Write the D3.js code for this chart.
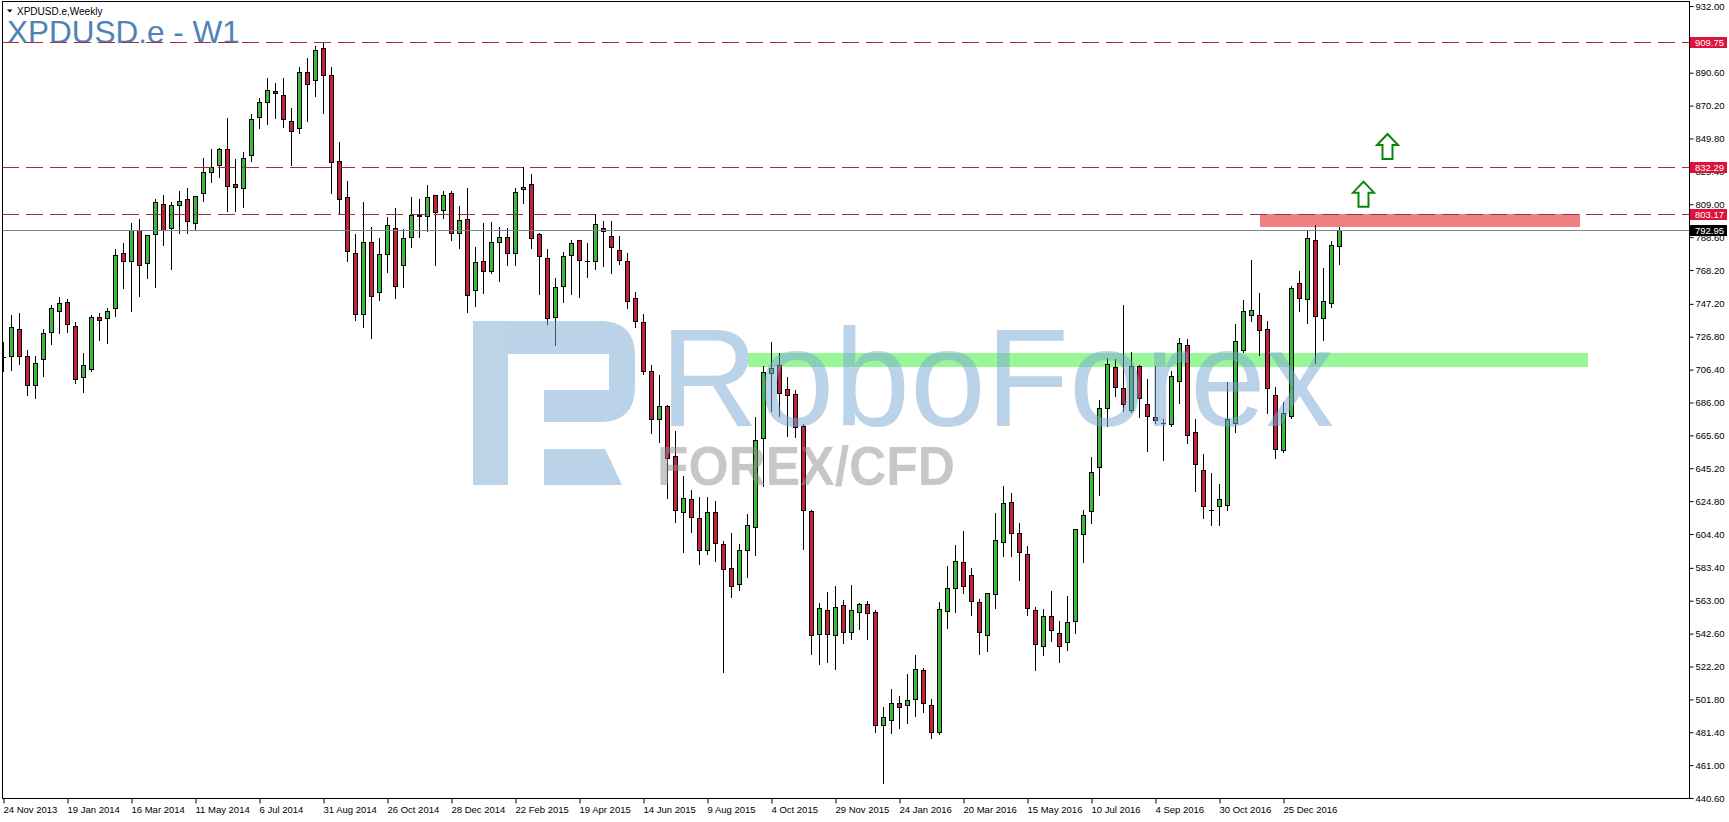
<!DOCTYPE html>
<html>
<head>
<meta charset="utf-8">
<title>XPDUSD.e - W1</title>
<script src="https://cdn.jsdelivr.net/npm/d3@7"></script>
<style>
  html, body { margin: 0; padding: 0; background: #fff; overflow: hidden; }
  svg { display: block; }
  text { font-family: "Liberation Sans", Arial, sans-serif; }
</style>
</head>
<body>
<svg id="chart"></svg>
<script>
// weekly XPDUSD.e candles, 24 Nov 2013 onwards
var opens = [
  714.5, 714.6, 731.4, 714.6, 696.6, 712.8, 729.5, 742.5, 748.1, 733.4,
  702.0, 707.0, 738.8, 738.2, 744.4, 778.5, 773.5, 792.8, 772.3, 790.3,
  808.9, 794.0, 808.3, 812.0, 797.1, 815.8, 828.8, 833.2, 843.2, 821.3,
  818.9, 839.3, 862.9, 872.2, 879.0, 876.6, 860.4, 856.1, 890.8, 885.9,
  905.7, 889.0, 835.6, 813.3, 778.5, 740.7, 785.4, 754.3, 777.9, 794.0,
  771.1, 788.5, 802.1, 801.5, 814.5, 805.2, 815.8, 791.0, 799.6, 755.6,
  773.6, 767.4, 785.4, 788.5, 778.6, 818.3, 821.3, 790.3, 775.4, 738.8,
  758.1, 777.3, 786.6, 773.9, 773.7, 794.1, 789.1, 780.4, 773.6, 750.6,
  735.7, 705.3, 675.6, 683.6, 652.6, 618.3, 625.9, 614.2, 594.3, 617.9,
  598.0, 583.1, 573.2, 594.3, 608.6, 663.8, 704.1, 709.1, 694.2, 691.1,
  671.2, 618.5, 542.2, 557.1, 541.6, 560.2, 543.4, 555.8, 560.8, 555.8,
  485.7, 488.8, 499.4, 498.1, 501.8, 519.8, 498.1, 481.8, 556.4, 570.7,
  586.8, 578.8, 562.0, 541.6, 567.0, 599.3, 624.1, 604.8, 591.8, 557.1,
  534.7, 553.3, 542.8, 537.2, 550.2, 604.2, 618.5, 645.8, 682.4, 707.8,
  694.8, 681.2, 708.5, 684.9, 676.8, 673.1, 672.5, 699.2, 721.5, 667.5,
  643.9, 619.4, 621.6, 622.2, 673.1, 718.4, 740.1, 740.1, 731.4, 690.5,
  656.4, 677.5, 760.0, 750.0, 786.6, 738.3, 747.6, 782.9
];
var highs = [
  724.0, 740.9, 742.1, 719.2, 715.5, 732.2, 747.1, 752.0, 750.8, 736.5,
  717.3, 740.7, 742.1, 745.2, 781.6, 785.5, 797.9, 800.2, 790.5, 812.6,
  815.3, 811.0, 817.8, 819.9, 815.0, 838.1, 843.7, 844.3, 863.0, 837.7,
  842.0, 865.4, 875.5, 887.9, 884.8, 887.9, 869.1, 894.8, 900.1, 907.8,
  909.9, 894.8, 848.2, 823.8, 790.9, 810.8, 795.5, 788.7, 801.7, 807.3,
  794.0, 814.1, 812.9, 821.6, 815.3, 817.6, 817.8, 808.5, 819.5, 783.1,
  798.0, 798.6, 795.5, 794.7, 819.5, 832.7, 828.2, 791.6, 781.6, 763.6,
  780.0, 787.2, 786.8, 785.6, 803.4, 799.0, 799.0, 789.7, 779.2, 755.0,
  741.3, 709.7, 703.5, 684.9, 668.7, 641.0, 632.4, 628.0, 628.0, 625.3,
  600.5, 605.7, 598.6, 617.5, 677.4, 709.1, 724.2, 717.1, 702.2, 694.2,
  673.1, 619.7, 562.0, 568.9, 572.6, 563.9, 573.2, 562.0, 563.5, 557.7,
  497.5, 508.7, 504.3, 518.2, 529.8, 521.7, 502.5, 562.6, 585.0, 598.0,
  606.7, 583.7, 564.5, 568.2, 617.9, 634.6, 630.3, 611.7, 597.4, 559.5,
  558.3, 569.5, 550.9, 566.4, 607.3, 619.7, 652.6, 688.0, 714.0, 713.4,
  747.1, 718.0, 710.1, 701.4, 709.1, 676.2, 706.0, 726.5, 725.8, 676.2,
  654.9, 642.9, 635.9, 699.4, 735.2, 750.0, 774.9, 754.4, 737.0, 696.1,
  686.8, 758.7, 768.0, 792.8, 796.6, 769.9, 786.6, 795.3
];
var lows = [
  706.0, 707.0, 710.7, 691.5, 689.6, 703.3, 723.1, 729.9, 730.5, 698.5,
  693.3, 706.3, 725.6, 723.5, 740.4, 757.8, 743.6, 752.9, 764.0, 758.4,
  784.5, 769.6, 792.0, 792.0, 793.8, 811.7, 823.6, 826.5, 805.2, 805.2,
  808.1, 836.7, 857.1, 859.6, 863.1, 857.7, 834.2, 853.6, 861.1, 877.0,
  866.4, 816.8, 804.4, 774.2, 738.0, 733.2, 726.4, 750.0, 767.8, 751.2,
  758.5, 783.3, 789.1, 793.0, 772.1, 800.9, 787.6, 782.7, 743.0, 746.7,
  754.8, 767.0, 762.2, 772.1, 772.1, 810.6, 782.7, 754.1, 735.5, 722.1,
  749.2, 753.7, 752.3, 764.7, 769.7, 771.5, 767.2, 772.8, 745.1, 733.7,
  704.1, 667.5, 661.9, 627.6, 612.3, 594.1, 606.5, 586.6, 592.4, 588.3,
  519.7, 566.2, 570.5, 578.6, 591.8, 635.0, 681.6, 678.5, 666.1, 665.2,
  595.8, 530.8, 524.2, 525.4, 521.5, 537.2, 539.7, 545.9, 539.7, 482.0,
  450.4, 481.4, 484.9, 487.5, 491.9, 494.4, 478.3, 481.2, 546.9, 556.9,
  568.6, 554.6, 530.4, 532.2, 558.9, 591.2, 591.2, 576.3, 554.6, 520.9,
  529.8, 538.5, 525.4, 532.9, 543.4, 587.5, 611.7, 629.0, 671.8, 690.5,
  681.1, 680.5, 677.9, 656.8, 673.7, 651.2, 672.0, 686.6, 661.3, 631.5,
  614.8, 610.7, 610.7, 619.8, 668.1, 718.0, 737.0, 715.9, 679.9, 652.0,
  656.0, 677.0, 743.2, 735.8, 711.0, 725.2, 745.7, 772.4
];
var closes = [
  714.4, 732.6, 714.6, 696.6, 710.3, 728.9, 744.4, 747.5, 734.5, 700.7,
  709.0, 739.0, 737.0, 742.5, 777.3, 773.5, 792.8, 771.1, 789.7, 810.1,
  792.8, 808.3, 810.8, 798.4, 814.1, 829.0, 831.9, 843.1, 820.2, 819.5,
  837.5, 861.7, 872.2, 879.7, 877.8, 861.7, 854.2, 890.8, 883.4, 904.5,
  889.0, 835.4, 812.0, 779.8, 740.7, 785.4, 751.9, 777.9, 795.9, 758.1,
  787.8, 802.1, 801.5, 813.3, 804.0, 814.5, 790.9, 799.0, 752.5, 773.0,
  767.4, 785.4, 788.5, 778.6, 816.4, 819.5, 787.9, 776.7, 738.2, 757.4,
  776.7, 784.7, 774.2, 773.7, 796.5, 792.2, 782.3, 774.2, 748.8, 736.4,
  705.3, 675.6, 683.6, 651.4, 619.1, 626.5, 614.8, 594.3, 617.9, 598.6,
  582.5, 572.4, 594.3, 609.8, 662.5, 704.7, 707.2, 691.7, 690.5, 671.0,
  619.1, 541.6, 558.3, 542.2, 558.9, 543.8, 557.1, 560.8, 555.2, 485.7,
  490.7, 499.4, 496.9, 501.2, 520.9, 499.4, 481.8, 557.7, 570.7, 587.5,
  571.9, 562.6, 543.4, 567.6, 600.5, 623.4, 604.8, 593.0, 558.3, 536.0,
  553.3, 544.7, 534.7, 549.6, 607.3, 616.0, 642.7, 682.4, 709.7, 695.4,
  684.9, 708.9, 688.6, 677.5, 675.0, 673.0, 702.3, 722.7, 665.7, 647.7,
  621.6, 619.3, 626.0, 675.6, 724.0, 742.6, 743.2, 730.8, 694.8, 657.0,
  679.3, 756.9, 750.7, 788.1, 739.5, 748.8, 783.5, 792.95
];

// one label every 8 bars
var dateLabels = [
  "24 Nov 2013", "19 Jan 2014", "16 Mar 2014", "11 May 2014", "6 Jul 2014",
  "31 Aug 2014", "26 Oct 2014", "28 Dec 2014", "22 Feb 2015", "19 Apr 2015",
  "14 Jun 2015", "9 Aug 2015", "4 Oct 2015", "29 Nov 2015", "24 Jan 2016",
  "20 Mar 2016", "15 May 2016", "10 Jul 2016", "4 Sep 2016", "30 Oct 2016",
  "25 Dec 2016"
];
var priceTicks = [
  932.00, 890.60, 870.20, 849.80, 829.40, 809.00, 788.60, 768.20, 747.20,
  726.80, 706.40, 686.00, 665.60, 645.20, 624.80, 604.40, 583.40, 563.00,
  542.60, 522.20, 501.80, 481.40, 461.00, 440.60
];

var levels = [909.75, 832.29, 803.17];
var lastPrice = 792.95;
var resistanceZone = { from: 157, to: 197, low: 795.1, high: 803.17 };
var supportZone = { from: 93, to: 198, low: 708.2, high: 716.9 };
var arrowMarks = [ { bar: 170, price: 823.0 }, { bar: 173, price: 852.6 } ];

var width = 1729,
    height = 822;

var plot = { left: 2, top: 1, right: 1689, bottom: 798 };

var svg = d3.select("#chart")
  .attr("width", width)
  .attr("height", height);

var x = d3.scaleLinear()
  .domain([0, 200])
  .range([3.5, 3.5 + 8 * 200]);

var y = d3.scaleLinear()
  .domain([440.6, 932])
  .range([798, 6]);

function py(v) { return Math.round(y(v)) + 0.5; }

var bars = d3.range(opens.length).map(function(i) {
  return { i: i, o: opens[i], h: highs[i], l: lows[i], c: closes[i] };
});

svg.append("defs").append("clipPath")
    .attr("id", "plot-clip")
  .append("rect")
    .attr("x", plot.left + 1)
    .attr("y", plot.top + 1)
    .attr("width", plot.right - plot.left - 1)
    .attr("height", plot.bottom - plot.top - 1);

// title texts
svg.append("path")
  .attr("d", "M7,9.5 L12.5,9.5 L9.75,12.5 Z")
  .attr("fill", "#000");
svg.append("text")
  .attr("x", 17)
  .attr("y", 14.5)
  .attr("font-size", "10px")
  .attr("fill", "#000")
  .text("XPDUSD.e,Weekly");
svg.append("text")
  .attr("x", 7)
  .attr("y", 42.5)
  .attr("font-size", "31.5px")
  .attr("fill", "#4f83b5")
  .text("XPDUSD.e - W1");

var chart = svg.append("g")
  .attr("clip-path", "url(#plot-clip)");

// zones in the back
function zone(z, color) {
  chart.append("rect")
    .attr("x", Math.round(x(z.from)))
    .attr("y", Math.round(y(z.high)))
    .attr("width", Math.round(x(z.to)) - Math.round(x(z.from)))
    .attr("height", Math.round(y(z.low)) - Math.round(y(z.high)))
    .attr("fill", color);
}
zone(supportZone, "#98f898");
zone(resistanceZone, "#f08080");

// candles
var candles = chart.append("g")
    .attr("class", "candles")
    .attr("shape-rendering", "crispEdges")
  .selectAll("g")
  .data(bars)
  .enter().append("g");

candles.append("line")
  .attr("x1", function(d) { return x(d.i); })
  .attr("x2", function(d) { return x(d.i); })
  .attr("y1", function(d) { return py(d.h); })
  .attr("y2", function(d) { return py(d.l) + 1; })
  .attr("stroke", "#000");

candles.each(function(d) {
  var g = d3.select(this);
  var top = py(Math.max(d.o, d.c)),
      bot = py(Math.min(d.o, d.c));
  if (bot - top < 1) {
    g.append("line")
      .attr("x1", x(d.i) - 2.5)
      .attr("x2", x(d.i) + 2.5)
      .attr("y1", top)
      .attr("y2", top)
      .attr("stroke", "#000");
  } else {
    g.append("rect")
      .attr("x", x(d.i) - 2)
      .attr("y", top)
      .attr("width", 4)
      .attr("height", bot - top)
      .attr("fill", d.c >= d.o ? "#3cb83c" : "#c81e3c")
      .attr("stroke", "#000");
  }
});

// horizontal levels
chart.selectAll(".level")
  .data(levels)
  .enter().append("line")
    .attr("class", "level")
    .attr("x1", plot.left)
    .attr("x2", plot.right)
    .attr("y1", function(d) { return py(d); })
    .attr("y2", function(d) { return py(d); })
    .attr("stroke", "#a52a50")
    .attr("stroke-dasharray", "17,7")
    .attr("shape-rendering", "crispEdges");

chart.append("line")
  .attr("x1", plot.left)
  .attr("x2", plot.right)
  .attr("y1", py(lastPrice))
  .attr("y2", py(lastPrice))
  .attr("stroke", "#778899")
  .attr("shape-rendering", "crispEdges");

// arrows
chart.selectAll(".arrow")
  .data(arrowMarks)
  .enter().append("path")
    .attr("class", "arrow")
    .attr("d", function(d) {
      var tx = x(d.bar), ty = y(d.price);
      return "M" + tx + "," + ty +
        " L" + (tx + 10.5) + "," + (ty + 11) +
        " L" + (tx + 5) + "," + (ty + 11) +
        " L" + (tx + 5) + "," + (ty + 25) +
        " L" + (tx - 5) + "," + (ty + 25) +
        " L" + (tx - 5) + "," + (ty + 11) +
        " L" + (tx - 10.5) + "," + (ty + 11) + " Z";
    })
    .attr("fill", "#fff")
    .attr("stroke", "#0a870a")
    .attr("stroke-width", 2)
    .attr("stroke-linejoin", "miter");

// watermark on top, see-through
var mark = chart.append("g")
  .attr("opacity", 0.5);
mark.append("path")
  .attr("fill", "#7aa8d2")
  .attr("fill-rule", "evenodd")
  .attr("d",
    "M473,321 L600,321 Q635,321 635,356 L635,387 Q635,422 600,422 L544,422 L544,390 L609,390 L609,354 L508,354 L508,485 L473,485 Z" +
    " M544,449 L605,449 L622,485 L544,485 Z");
mark.append("text")
  .attr("x", 660)
  .attr("y", 426)
  .attr("font-family", "Roboto, 'Liberation Sans', sans-serif")
  .attr("font-size", "140px")
  .attr("textLength", 674)
  .attr("lengthAdjust", "spacingAndGlyphs")
  .attr("fill", "#7aa8d2")
  .text("RoboForex");
mark.append("text")
  .attr("x", 657)
  .attr("y", 485)
  .attr("font-size", "56px")
  .attr("font-weight", "bold")
  .attr("textLength", 298)
  .attr("lengthAdjust", "spacingAndGlyphs")
  .attr("fill", "#919191")
  .text("FOREX/CFD");

// frame
svg.append("rect")
  .attr("x", plot.left + 0.5)
  .attr("y", plot.top + 0.5)
  .attr("width", plot.right - plot.left)
  .attr("height", plot.bottom - plot.top)
  .attr("fill", "none")
  .attr("stroke", "#000")
  .attr("shape-rendering", "crispEdges");

// price axis
var yAxis = svg.append("g")
  .attr("transform", "translate(" + (plot.right + 0.5) + ",0)")
  .call(d3.axisRight(y)
    .tickValues(priceTicks)
    .tickFormat(d3.format(".2f"))
    .tickSize(4)
    .tickSizeOuter(0)
    .tickPadding(2));
yAxis.select(".domain").remove();
yAxis.selectAll(".tick line").attr("stroke", "#000");
yAxis.selectAll(".tick text")
  .attr("font-size", "9.5px")
  .attr("font-family", "'Liberation Sans', Arial, sans-serif")
  .attr("fill", "#000");

// time axis
var xAxis = svg.append("g")
  .attr("transform", "translate(0," + (plot.bottom + 0.5) + ")")
  .call(d3.axisBottom(x)
    .tickValues(dateLabels.map(function(d, i) { return i * 8; }))
    .tickFormat(function(d, i) { return dateLabels[i]; })
    .tickSize(5)
    .tickSizeOuter(0)
    .tickPadding(3));
xAxis.select(".domain").remove();
xAxis.selectAll(".tick line").attr("stroke", "#000");
xAxis.selectAll(".tick text")
  .attr("text-anchor", "start")
  .attr("x", -0.5)
  .attr("font-size", "9.5px")
  .attr("font-family", "'Liberation Sans', Arial, sans-serif")
  .attr("fill", "#000");

// price boxes on the axis
var boxes = levels.map(function(v) { return { v: v, bg: "#dc143c" }; })
  .concat([{ v: lastPrice, bg: "#000" }]);
var box = svg.selectAll(".pricebox")
  .data(boxes)
  .enter().append("g")
    .attr("class", "pricebox");
box.append("rect")
  .attr("x", plot.right + 1)
  .attr("y", function(d) { return Math.round(y(d.v)) - 5; })
  .attr("width", 37)
  .attr("height", 11)
  .attr("fill", function(d) { return d.bg; });
box.append("text")
  .attr("x", plot.right + 6)
  .attr("y", function(d) { return Math.round(y(d.v)) + 0.5; })
  .attr("dy", "0.34em")
  .attr("font-size", "9.5px")
  .attr("fill", "#fff")
  .text(function(d) { return d3.format(".2f")(d.v); });
</script>
</body>
</html>
